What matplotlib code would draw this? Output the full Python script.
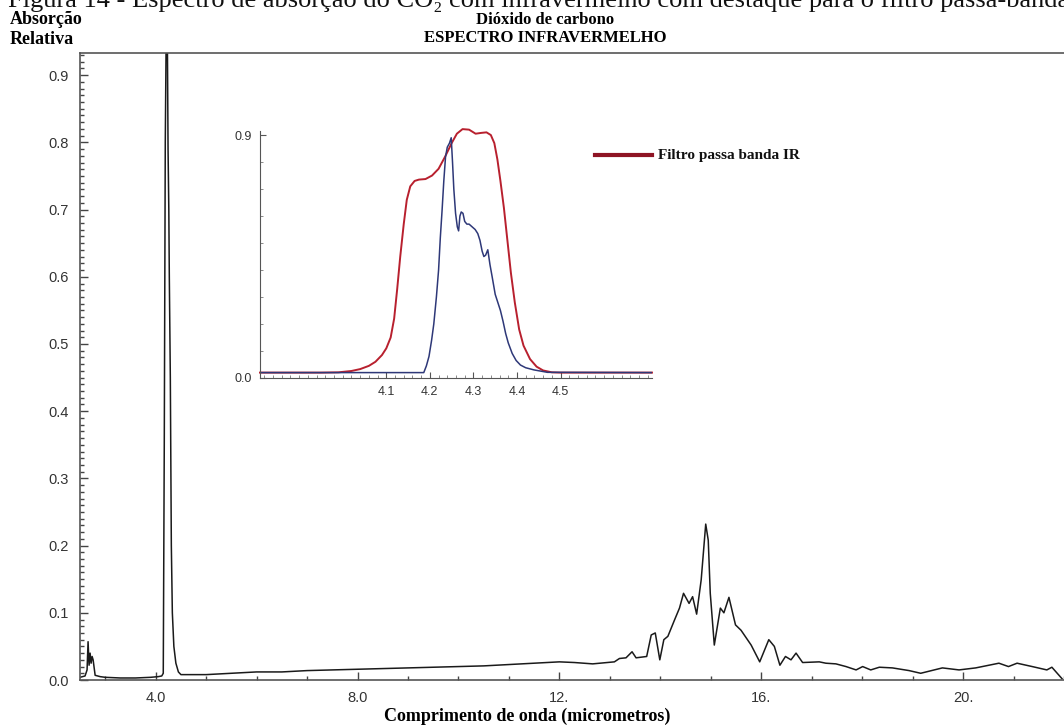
import numpy as np
import matplotlib.pyplot as plt
from matplotlib.ticker import MultipleLocator, FixedLocator

# Espectro principal (micrometros, absorção relativa)
comp_onda = [2.50, 2.60, 2.64, 2.66, 2.68, 2.70, 2.72, 2.74, 2.76, 2.80, 2.90, 3.0, 3.3, 3.6, 3.9, 4.05,
             4.12, 4.15, 4.17, 4.19, 4.21, 4.23, 4.245, 4.26, 4.27, 4.29, 4.31, 4.33, 4.36, 4.40, 4.45,
             4.50, 5.0, 5.5, 6.0, 6.5, 7.0, 7.5, 8.0, 8.5, 9.0, 9.5, 10.0, 10.5, 11.0, 11.5, 12.0,
             12.3, 12.66, 13.09, 13.19, 13.32, 13.44, 13.52, 13.73, 13.82, 13.90, 13.99, 14.07, 14.15,
             14.28, 14.38, 14.46, 14.57, 14.64, 14.72, 14.81, 14.90, 14.95, 14.99, 15.07, 15.19, 15.26,
             15.36, 15.49, 15.60, 15.80, 15.97, 16.15, 16.26, 16.37, 16.48, 16.59, 16.69, 16.82, 17.15,
             17.28, 17.48, 17.68, 17.88, 18.01, 18.17, 18.34, 18.60, 18.93, 19.16, 19.59, 19.92, 20.25,
             20.71, 20.90, 21.07, 21.37, 21.66, 21.76, 21.96]
absorcao = [0.004, 0.006, 0.015, 0.057, 0.022, 0.040, 0.025, 0.035, 0.030, 0.007, 0.005, 0.004, 0.003, 0.003, 0.004, 0.005,
            0.006, 0.010, 0.35, 0.80, 0.98, 0.97, 0.79, 0.70, 0.60, 0.45, 0.20, 0.10, 0.05, 0.025, 0.012,
            0.008, 0.008, 0.010, 0.012, 0.012, 0.014, 0.015, 0.016, 0.017, 0.018, 0.019, 0.020, 0.021, 0.023, 0.025, 0.027,
            0.026, 0.024, 0.027, 0.032, 0.033, 0.042, 0.033, 0.035, 0.067, 0.070, 0.030, 0.060, 0.065,
            0.089, 0.107, 0.129, 0.114, 0.124, 0.098, 0.149, 0.232, 0.208, 0.129, 0.052, 0.107, 0.100,
            0.123, 0.082, 0.074, 0.052, 0.027, 0.060, 0.050, 0.022, 0.035, 0.030, 0.040, 0.026, 0.027,
            0.025, 0.024, 0.020, 0.015, 0.020, 0.015, 0.019, 0.018, 0.014, 0.010, 0.018, 0.015, 0.018,
            0.025, 0.020, 0.025, 0.020, 0.015, 0.019, 0.002]

# Detalhe da banda de 4.3 um: filtro passa banda
filtro_x = [3.81, 3.95, 3.99, 4.02, 4.04, 4.06, 4.075, 4.09, 4.10, 4.11, 4.118, 4.125, 4.132, 4.14,
            4.147, 4.155, 4.165, 4.175, 4.19, 4.205, 4.22, 4.235, 4.25, 4.262, 4.275, 4.29, 4.305,
            4.318, 4.33, 4.34, 4.348, 4.355, 4.362, 4.37, 4.378, 4.386, 4.395, 4.405, 4.415, 4.43,
            4.445, 4.46, 4.48, 4.50, 4.71]
filtro_y = [0.02, 0.02, 0.021, 0.026, 0.033, 0.045, 0.06, 0.085, 0.11, 0.15, 0.22, 0.33, 0.45, 0.57,
            0.66, 0.71, 0.73, 0.735, 0.737, 0.75, 0.775, 0.82, 0.87, 0.905, 0.922, 0.92, 0.905,
            0.908, 0.91, 0.90, 0.87, 0.81, 0.73, 0.63, 0.51, 0.39, 0.28, 0.18, 0.12, 0.07,
            0.042, 0.028, 0.021, 0.02, 0.02]

# espectro do CO2 na mesma faixa
co2_x = [3.81, 4.0, 4.186, 4.192, 4.198, 4.204, 4.209, 4.215, 4.22, 4.224, 4.228, 4.232, 4.236, 4.24,
         4.245, 4.249, 4.252, 4.255, 4.259, 4.263, 4.266, 4.269, 4.272, 4.276, 4.28, 4.285, 4.29,
         4.297, 4.304, 4.31, 4.315, 4.32, 4.324, 4.328, 4.333, 4.338, 4.343, 4.35, 4.356, 4.362,
         4.368, 4.374, 4.38, 4.389, 4.398, 4.408, 4.42, 4.439, 4.47, 4.71]
co2_y = [0.02, 0.02, 0.02, 0.045, 0.08, 0.14, 0.20, 0.30, 0.40, 0.52, 0.62, 0.73, 0.82, 0.855,
         0.87, 0.89, 0.80, 0.70, 0.61, 0.56, 0.545, 0.60, 0.615, 0.61, 0.58, 0.57, 0.57,
         0.56, 0.55, 0.535, 0.51, 0.47, 0.45, 0.455, 0.475, 0.42, 0.375, 0.31, 0.28, 0.25,
         0.21, 0.165, 0.13, 0.091, 0.065, 0.048, 0.038, 0.03, 0.021, 0.02]

SERIF = ['Liberation Serif', 'DejaVu Serif']
SANS = ['Liberation Sans', 'DejaVu Sans']

fig = plt.figure(figsize=(10.64, 7.27), dpi=100)

ax = fig.add_axes([80 / 1064, 1 - 680 / 727, 1 - 80 / 1064, (680 - 53) / 727])
ax.plot(comp_onda, absorcao, color='#1a1a1a', linewidth=1.1)
ax.set_xlim(2.5, 22.0)
ax.set_ylim(0, 0.933)
ax.spines['right'].set_visible(False)
for s in ['left', 'bottom', 'top']:
    ax.spines[s].set_color('#555555')
    ax.spines[s].set_linewidth(1.2)
ax.xaxis.set_major_locator(FixedLocator([4, 8, 12, 16, 20]))
ax.set_xticklabels(['4.0', '8.0', '12.', '16.', '20.'])
ax.xaxis.set_minor_locator(MultipleLocator(1))
ax.yaxis.set_major_locator(MultipleLocator(0.1))
ax.yaxis.set_minor_locator(MultipleLocator(0.01))
ax.tick_params(axis='both', which='major', direction='in', length=6, width=1, color='#444444',
               labelsize=10.5, labelcolor='#333333', pad=8)
ax.tick_params(axis='both', which='minor', direction='in', length=3, width=1, color='#444444')
ax.tick_params(axis='x', which='both', top=False)
for lab in ax.get_xticklabels() + ax.get_yticklabels():
    lab.set_family(SANS)

# inset
axi = fig.add_axes([260 / 1064, 1 - 378 / 727, (652 - 260) / 1064, (378 - 131) / 727])
axi.plot(filtro_x, filtro_y, color='#b8202e', linewidth=1.4, clip_on=False)
axi.plot(co2_x, co2_y, color='#2e3878', linewidth=1.1)
axi.set_xlim(3.81, 4.71)
axi.set_ylim(0, 0.915)
axi.spines['right'].set_visible(False)
axi.spines['top'].set_visible(False)
for s in ['left', 'bottom']:
    axi.spines[s].set_color('#555555')
axi.xaxis.set_major_locator(FixedLocator([4.1, 4.2, 4.3, 4.4, 4.5]))
axi.xaxis.set_minor_locator(MultipleLocator(0.02))
axi.yaxis.set_major_locator(FixedLocator([0.0, 0.9]))
axi.yaxis.set_minor_locator(MultipleLocator(0.1))
axi.tick_params(axis='both', which='major', direction='in', length=4, width=0.8, color='#555555',
                labelsize=9, labelcolor='#333333', pad=6)
axi.tick_params(axis='both', which='minor', direction='in', length=2, width=0.6, color='#777777')
axi.set_yticklabels(['0.0', '0.9'])
for lab in axi.get_xticklabels() + axi.get_yticklabels():
    lab.set_family(SANS)

# legenda
fig.lines.append(plt.Line2D([595 / 1064, 652 / 1064], [1 - 155 / 727, 1 - 155 / 727],
                            color='#8e1424', linewidth=3, transform=fig.transFigure))
fig.text(658 / 1064, 1 - 155 / 727, 'Filtro passa banda IR', family=SERIF, fontweight='bold',
         fontsize=11, va='center', ha='left', color='#111111')

# textos
fig.text(8 / 1064, 1 - 7 / 727, 'Figura 14 - Espectro de absorção do CO₂ com infravermelho com destaque para o filtro passa-banda',
         family=SERIF, fontsize=19, va='baseline', ha='left', color='#111111')
fig.text(10 / 1064, 1 - 19 / 727, 'Absorção', family=SERIF, fontweight='bold', fontsize=13,
         va='center', ha='left')
fig.text(10 / 1064, 1 - 40 / 727, 'Relativa', family=SERIF, fontweight='bold', fontsize=13,
         va='center', ha='left')
fig.text(545 / 1064, 1 - 20 / 727, 'Dióxido de carbono', family=SERIF, fontweight='bold', fontsize=12,
         va='center', ha='center')
fig.text(545 / 1064, 1 - 38 / 727, 'ESPECTRO INFRAVERMELHO', family=SERIF, fontweight='bold', fontsize=12,
         va='center', ha='center')
fig.text(527 / 1064, 1 - 716 / 727, 'Comprimento de onda (micrometros)', family=SERIF, fontweight='bold',
         fontsize=13, va='center', ha='center')

fig.savefig('out.png', dpi=100)
